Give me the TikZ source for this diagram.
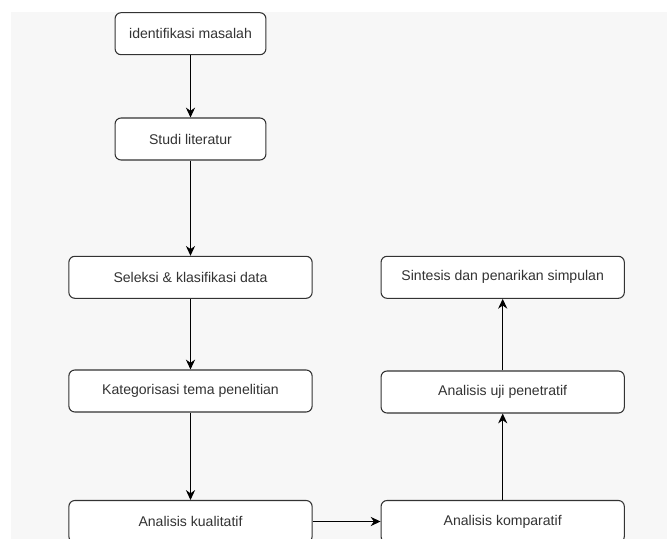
\documentclass[tikz,border=0pt]{standalone}
\usepackage{fontspec}
\setmainfont{Liberation Sans}
\usetikzlibrary{arrows.meta}
\usetikzlibrary{positioning}

\definecolor{bgGray}{HTML}{F7F7F7}
\definecolor{textGray}{HTML}{333333}

\tikzset{
  stepbox/.style={draw=black!80,fill=white,rounded corners=0.15cm,line width=0.75pt,
    minimum width=6.08cm,minimum height=1.05cm,font=\fontsize{10}{12}\selectfont,text=textGray},
  shortbox/.style={stepbox,minimum width=3.77cm},
  flowarrow/.style={draw=black,line width=0.75pt,-{Stealth[length=7pt,width=6.5pt]}}
}

\begin{document}
\begin{tikzpicture}[x=0.025cm,y=-0.025cm]
\useasboundingbox (0,0) rectangle (667,539);
\clip (0,0) rectangle (667,539);
\fill[white] (0,0) rectangle (667,539);
\fill[bgGray] (11,12) rectangle (667,539);

% left column
\node[shortbox] (ident) at (190.5,33.7) {identifikasi masalah};
\node[shortbox] (studi) at (190.5,139) {Studi literatur};
\node[stepbox] (seleksi) at (190.5,277.3) {Seleksi \& klasifikasi data};
\node[stepbox] (kategori) at (190.5,391) {Kategorisasi tema penelitian};
\node[stepbox] (kualitatif) at (190.5,521.5) {Analisis kualitatif};

% right column
\node[stepbox] (komparatif) at (502.7,521.5) {Analisis komparatif};
\node[stepbox] (penetratif) at (502.7,392) {Analisis uji penetratif};
\node[stepbox] (sintesis) at (502.7,277.3) {Sintesis dan penarikan simpulan};

\draw[flowarrow] (ident) -- (studi);
\draw[flowarrow] (studi) -- (seleksi);
\draw[flowarrow] (seleksi) -- (kategori);
\draw[flowarrow] (kategori) -- (kualitatif);
\draw[flowarrow] (kualitatif) -- (komparatif);
\draw[flowarrow] (komparatif) -- (penetratif);
\draw[flowarrow] (penetratif) -- (sintesis);

\end{tikzpicture}
\end{document}
